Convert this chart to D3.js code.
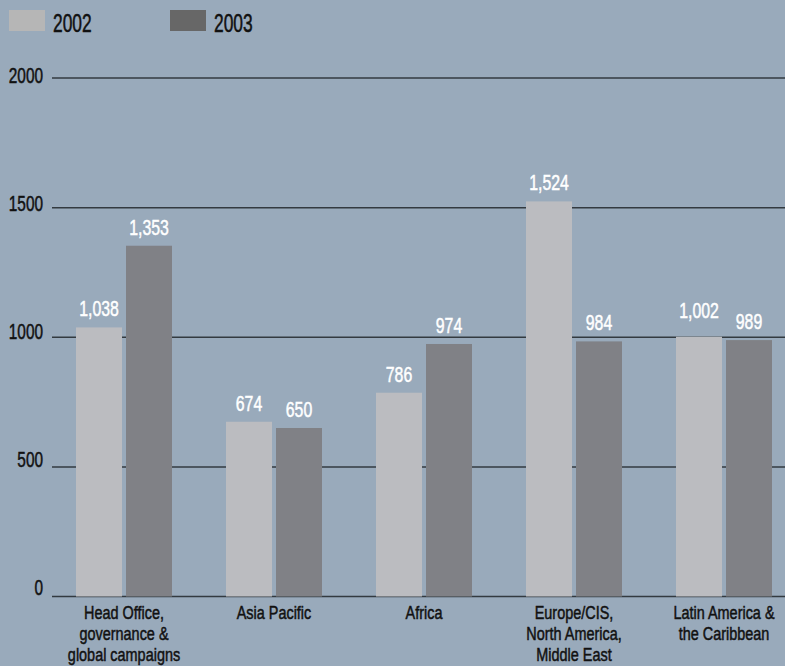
<!DOCTYPE html>
<html>
<head>
<meta charset="utf-8">
<script src="https://cdn.jsdelivr.net/npm/d3@7"></script>
<style>
  html, body { margin: 0; padding: 0; background: #99aabb; }
  svg { display: block; }
  text { font-family: "Liberation Sans", Arial, sans-serif; stroke-width: 0.5px; }
</style>
</head>
<body>
<svg id="chart" width="785" height="666"></svg>
<script>
// chart data
var categories = [
   ["Head Office,", "governance &", "global campaigns"],
   ["Asia Pacific"],
   ["Africa"],
   ["Europe/CIS,", "North America,", "Middle East"],
   ["Latin America &", "the Caribbean"]
];
var years = ["2002", "2003"];
var values2002 = [1038, 674, 786, 1524, 1002];
var values2003 = [1353, 650, 974, 984, 989];
var yTicks = [0, 500, 1000, 1500, 2000];

var barColors = {"2002": "#bbbcc0", "2003": "#808186"};
var legendColors = {"2002": "#b6b6b6", "2003": "#676767"};

var svg = d3.select("#chart");
var width = 785, height = 666;

var catKeys = categories.map(function(c){ return c.join(" "); });

var y = d3.scaleLinear().domain([0, 2000]).range([596.5, 78]);
//tick labels sit a touch off the lines in the original
var yLabel = d3.scaleLinear().domain([0, 2000]).range([595, 83]);

var x0 = d3.scaleBand()
   .domain(catKeys)
   .range([49, 799])
   .paddingInner(0.36)
   .paddingOuter(0.18);

var x1 = d3.scaleBand()
   .domain(years)
   .range([0, x0.bandwidth()])
   .paddingInner(0.08);

//the original type is a tall condensed face, so squeeze it sideways
function place(x, yy, sx){
   return "translate(" + x + "," + yy + ") scale(" + sx + ",1)";
}

//gridlines
svg.append("g")
   .selectAll("line")
   .data(yTicks)
   .enter()
   .append("line")
   .attr("x1", 52)
   .attr("x2", width)
   .attr("y1", function(d){ return y(d); })
   .attr("y2", function(d){ return y(d); })
   .attr("stroke", "#333a40")
   .attr("stroke-width", 1.5);

//y tick labels
svg.append("g")
   .selectAll("text")
   .data(yTicks)
   .enter()
   .append("text")
   .attr("transform", function(d){ return place(43, yLabel(d), 0.7); })
   .attr("text-anchor", "end")
   .attr("font-size", 22)
   .attr("fill", "#111")
   .attr("stroke", "#111")
   .text(function(d){ return d; });

//build rows
var rows = catKeys.map(function(k, i){
   return {key: k, lines: categories[i], vals: [
      {year: "2002", v: values2002[i], other: values2003[i]},
      {year: "2003", v: values2003[i], other: values2002[i]}
   ]};
});

var groups = svg.append("g")
   .selectAll("g")
   .data(rows)
   .enter()
   .append("g")
   .attr("transform", function(d){ return "translate(" + x0(d.key) + ",0)"; });

groups.selectAll("rect")
   .data(function(d){ return d.vals; })
   .enter()
   .append("rect")
   .attr("x", function(d){ return x1(d.year); })
   .attr("y", function(d){ return y(d.v); })
   .attr("width", x1.bandwidth())
   .attr("height", function(d){ return y(0) - y(d.v); })
   .attr("fill", function(d){ return barColors[d.year]; });

groups.selectAll("text.val")
   .data(function(d){ return d.vals; })
   .enter()
   .append("text")
   .attr("class", "val")
   .attr("transform", function(d){
      var off = 11;
      //near-equal pair: lift the first label clear of its neighbour
      if(d.year == "2002" && Math.abs(d.v - d.other) < 20) off = 19;
      return place(x1(d.year) + x1.bandwidth() / 2, y(d.v) - off, 0.72);
   })
   .attr("text-anchor", "middle")
   .attr("font-size", 22)
   .attr("fill", "#ffffff")
   .attr("stroke", "#ffffff")
   .attr("stroke-width", 0.3)
   .text(function(d){ return d3.format(",")(d.v); });

//category labels
groups.append("text")
   .attr("transform", place(x0.bandwidth() / 2, 619, 0.76))
   .attr("text-anchor", "middle")
   .attr("font-size", 19)
   .attr("fill", "#111")
   .attr("stroke", "#111")
   .selectAll("tspan")
   .data(function(d){ return d.lines; })
   .enter()
   .append("tspan")
   .attr("x", 0)
   .attr("y", function(d, i){ return i * 21; })
   .text(function(d){ return d; });

//legend
var legend = svg.append("g")
   .selectAll("g")
   .data(years)
   .enter()
   .append("g")
   .attr("transform", function(d, i){ return "translate(" + (9 + i * 161) + ",10)"; });

legend.append("rect")
   .attr("width", 36)
   .attr("height", 21)
   .attr("fill", function(d){ return legendColors[d]; });

legend.append("text")
   .attr("transform", place(44, 22, 0.67))
   .attr("font-size", 26)
   .attr("fill", "#111")
   .attr("stroke", "#111")
   .text(function(d){ return d; });
</script>
</body>
</html>
